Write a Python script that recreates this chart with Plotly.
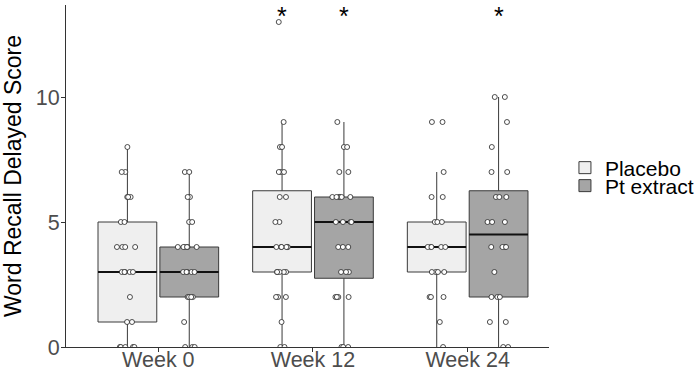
import numpy as np
import plotly.graph_objects as go

weeks = ["Week 0", "Week 12", "Week 24"]
arms = ["Placebo", "Pt extract"]

# Individual scores (value -> count)
placebo_w0 = [0]*5 + [1]*2 + [2]*1 + [3]*5 + [4]*4 + [5]*2 + [6]*3 + [7]*2 + [8]*1
placebo_w12 = [0]*2 + [1]*1 + [2]*3 + [3]*5 + [4]*6 + [5]*2 + [6]*2 + [7]*3 + [8]*2 + [9]*1 + [13]*1
placebo_w24 = [0]*1 + [1]*1 + [2]*3 + [3]*4 + [4]*5 + [5]*3 + [6]*2 + [7]*1 + [9]*2
pt_w0 = [0]*3 + [1]*1 + [2]*4 + [3]*5 + [4]*6 + [5]*2 + [6]*2 + [7]*2
pt_w12 = [0]*3 + [2]*4 + [3]*3 + [4]*3 + [5]*4 + [6]*6 + [7]*2 + [8]*2 + [9]*1
pt_w24 = [0]*2 + [1]*2 + [2]*3 + [3]*1 + [4]*4 + [5]*3 + [6]*3 + [7]*2 + [8]*1 + [9]*1 + [10]*2

data = {
    "Placebo": [placebo_w0, placebo_w12, placebo_w24],
    "Pt extract": [pt_w0, pt_w12, pt_w24],
}
fills = {"Placebo": "#EFEFEF", "Pt extract": "#A5A5A5"}

# significance markers: (week, arm)
stars = [("Week 12", "Placebo"), ("Week 12", "Pt extract"), ("Week 24", "Pt extract")]


def box_stats(v):
    v = np.asarray(v, dtype=float)
    q1, med, q3 = np.percentile(v, [25, 50, 75])
    iqr = q3 - q1
    lf = v[v >= q1 - 1.5 * iqr].min()
    uf = v[v <= q3 + 1.5 * iqr].max()
    return q1, med, q3, lf, uf


FONT = "Liberation Sans, Arial, sans-serif"
fig = go.Figure()

for i, arm in enumerate(arms):
    st = [box_stats(v) for v in data[arm]]
    q1 = [s[0] for s in st]
    med = [s[1] for s in st]
    q3 = [s[2] for s in st]
    lf = [s[3] for s in st]
    uf = [s[4] for s in st]
    legend_id = "legend" if i == 0 else "legend2"
    fig.add_trace(go.Box(
        x=weeks, q1=q1, median=med, q3=q3, lowerfence=lf, upperfence=uf,
        name=arm, offsetgroup=arm, fillcolor=fills[arm],
        line=dict(color="#3a3a3a", width=1), whiskerwidth=0,
        boxpoints=False, legend=legend_id, hoverinfo="skip",
    ))
    # thicker median line (flat box at the median)
    fig.add_trace(go.Box(
        x=weeks, q1=med, median=med, q3=med, lowerfence=med, upperfence=med,
        name=arm, offsetgroup=arm, fillcolor="rgba(0,0,0,0)",
        line=dict(color="#111111", width=2.2), whiskerwidth=0,
        boxpoints=False, showlegend=False, hoverinfo="skip",
    ))
    # individual points
    xs, ys = [], []
    for w, v in zip(weeks, data[arm]):
        xs += [w] * len(v)
        ys += list(v)
    fig.add_trace(go.Box(
        x=xs, y=ys, name=arm, offsetgroup=arm,
        boxpoints="all", jitter=0.4, pointpos=0,
        fillcolor="rgba(0,0,0,0)", line=dict(color="rgba(0,0,0,0)", width=0),
        whiskerwidth=0,
        marker=dict(color="white", size=5, line=dict(color="#222222", width=0.8)),
        showlegend=False, hoverinfo="skip",
    ))

for w, arm in stars:
    fig.add_annotation(
        x=w, y=1 + 5 / 342, xref="x", yref="paper", text="*", showarrow=False,
        xshift=-31 if arm == "Placebo" else 31,
        font=dict(family=FONT, size=25, color="black"),
        yanchor="top",
    )

fig.update_layout(
    width=699, height=373,
    margin=dict(l=66, r=150, t=5, b=26, autoexpand=False),
    paper_bgcolor="white", plot_bgcolor="white",
    boxmode="group", boxgap=0.2, boxgroupgap=0.05,
    font=dict(family=FONT, color="#4D4D4D"),
    legend=dict(x=1.033, y=0.5234, xanchor="left", yanchor="middle",
                font=dict(family=FONT, size=21, color="black"),
                bgcolor="rgba(0,0,0,0)"),
    legend2=dict(x=1.033, y=0.4708, xanchor="left", yanchor="middle",
                 font=dict(family=FONT, size=21, color="black"),
                 bgcolor="rgba(0,0,0,0)"),
)
fig.update_xaxes(
    type="category", categoryorder="array", categoryarray=weeks,
    range=[-0.597, 2.526], showline=True, linecolor="#333333", linewidth=1,
    ticks="outside", ticklen=4, tickcolor="#333333", ticklabelstandoff=-11,
    tickfont=dict(family=FONT, size=21.5, color="#4D4D4D"),
    showgrid=False, zeroline=False, automargin=False,
)
fig.update_yaxes(
    range=[0, 13.68], tickvals=[0, 5, 10], showline=True, linecolor="#333333", linewidth=1,
    ticks="outside", ticklen=4, tickcolor="#333333", ticklabelstandoff=-3,
    tickfont=dict(family=FONT, size=21.5, color="#4D4D4D"),
    title=dict(text="Word Recall Delayed Score", standoff=12,
               font=dict(family=FONT, size=23, color="black")),
    showgrid=False, zeroline=False, automargin=False,
)

fig.write_html(
    "out.html",
    config={"displayModeBar": False},
    post_script="document.body.style.margin='0';document.body.style.overflow='hidden';",
)
